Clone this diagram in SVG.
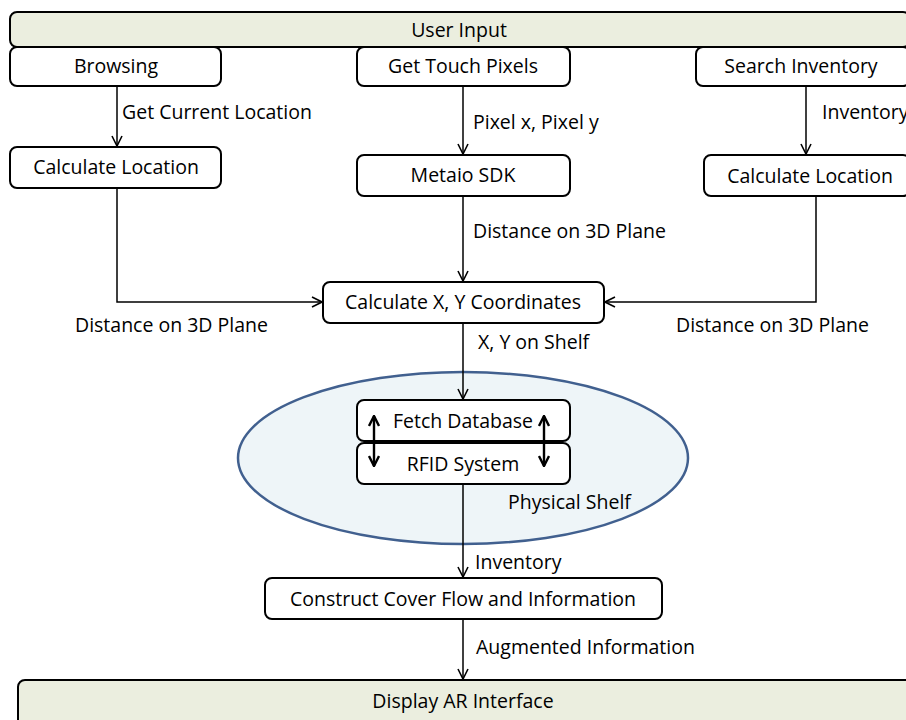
<svg xmlns="http://www.w3.org/2000/svg" width="906" height="720" viewBox="0 0 906 720">
<defs>
<marker id="ah" viewBox="0 0 12 12" refX="11" refY="6" markerWidth="12" markerHeight="12" markerUnits="userSpaceOnUse" orient="auto">
<path d="M1,1 L11,6 L1,11" fill="none" stroke="#000" stroke-width="1.6"/>
</marker>
<marker id="ah2" viewBox="0 0 12 12" refX="11" refY="6" markerWidth="12" markerHeight="12" markerUnits="userSpaceOnUse" orient="auto-start-reverse">
<path d="M1,1 L11,6 L1,11" fill="none" stroke="#000" stroke-width="2.4"/>
</marker>
<style>
.box{fill:#fff;stroke:#000;stroke-width:2}
.band{fill:#ebeedf;stroke:#000;stroke-width:2}
.t{font-family:"Open Sans","Liberation Sans",sans-serif;font-size:19.5px;fill:#000}
.c{text-anchor:middle}
.ln{fill:none;stroke:#000;stroke-width:1.5}
</style>
</defs>
<rect width="906" height="720" fill="#fff"/>
<g id="shelf">
<ellipse cx="463" cy="458" rx="225" ry="86" fill="#eef5f8" stroke="#41608f" stroke-width="2.5"/>
<text class="t" x="508" y="509">Physical Shelf</text>
</g>
<g id="user-input">
<rect class="band" x="10" y="12" width="900" height="35" rx="7"/>
<text class="t c" x="459" y="37">User Input</text>
</g>
<g id="browsing">
<rect class="box" x="10" y="47" width="211" height="39" rx="7"/>
<text class="t c" x="116" y="73">Browsing</text>
</g>
<g id="touch">
<rect class="box" x="357" y="47" width="213" height="39" rx="7"/>
<text class="t c" x="463" y="73">Get Touch Pixels</text>
</g>
<g id="search">
<rect class="box" x="696" y="47" width="214" height="39" rx="7"/>
<text class="t c" x="801" y="73">Search Inventory</text>
</g>
<g id="calc-loc-left">
<rect class="box" x="10" y="147" width="211" height="41" rx="7"/>
<text class="t c" x="116" y="174">Calculate Location</text>
</g>
<g id="metaio">
<rect class="box" x="357" y="155" width="213" height="41" rx="7"/>
<text class="t c" x="463" y="182">Metaio SDK</text>
</g>
<g id="calc-loc-right">
<rect class="box" x="704" y="155" width="206" height="41" rx="7"/>
<text class="t c" x="810" y="183">Calculate Location</text>
</g>
<g id="calc-xy">
<rect class="box" x="323" y="282" width="281" height="41" rx="7"/>
<text class="t c" x="463" y="309">Calculate X, Y Coordinates</text>
</g>
<g id="fetch">
<rect class="box" x="357" y="400" width="213" height="41" rx="7"/>
<text class="t c" x="463" y="428">Fetch Database</text>
</g>
<g id="rfid">
<rect class="box" x="357" y="443" width="213" height="41" rx="7"/>
<text class="t c" x="463" y="471">RFID System</text>
</g>
<g id="construct">
<rect class="box" x="265" y="578" width="397" height="41" rx="7"/>
<text class="t c" x="463" y="606">Construct Cover Flow and Information</text>
</g>
<g id="display">
<rect class="band" x="18" y="680" width="900" height="50" rx="7"/>
<text class="t c" x="463" y="708">Display AR Interface</text>
</g>
<g id="connectors">
<line class="ln" x1="117" y1="86" x2="117" y2="146" marker-end="url(#ah)"/>
<line class="ln" x1="463" y1="86" x2="463" y2="154" marker-end="url(#ah)"/>
<line class="ln" x1="806" y1="86" x2="806" y2="154" marker-end="url(#ah)"/>
<line class="ln" x1="463" y1="196" x2="463" y2="281" marker-end="url(#ah)"/>
<polyline class="ln" points="117,188 117,302 322,302" marker-end="url(#ah)"/>
<polyline class="ln" points="816,196 816,302 605,302" marker-end="url(#ah)"/>
<line class="ln" x1="463" y1="323" x2="463" y2="399" marker-end="url(#ah)"/>
<line class="ln" x1="463" y1="484" x2="463" y2="577" marker-end="url(#ah)"/>
<line class="ln" x1="463" y1="619" x2="463" y2="679" marker-end="url(#ah)"/>
<line x1="374" y1="416" x2="374" y2="466" stroke="#000" stroke-width="2.4" marker-start="url(#ah2)" marker-end="url(#ah2)"/>
<line x1="544" y1="416" x2="544" y2="466" stroke="#000" stroke-width="2.4" marker-start="url(#ah2)" marker-end="url(#ah2)"/>
<text class="t" x="122" y="119">Get Current Location</text>
<text class="t" x="473" y="129">Pixel x, Pixel y</text>
<text class="t" x="822" y="119">Inventory</text>
<text class="t" x="473" y="238">Distance on 3D Plane</text>
<text class="t" x="75" y="332">Distance on 3D Plane</text>
<text class="t" x="676" y="332">Distance on 3D Plane</text>
<text class="t" x="478" y="349">X, Y on Shelf</text>
<text class="t" x="475" y="569">Inventory</text>
<text class="t" x="476" y="654">Augmented Information</text>
</g>
</svg>
